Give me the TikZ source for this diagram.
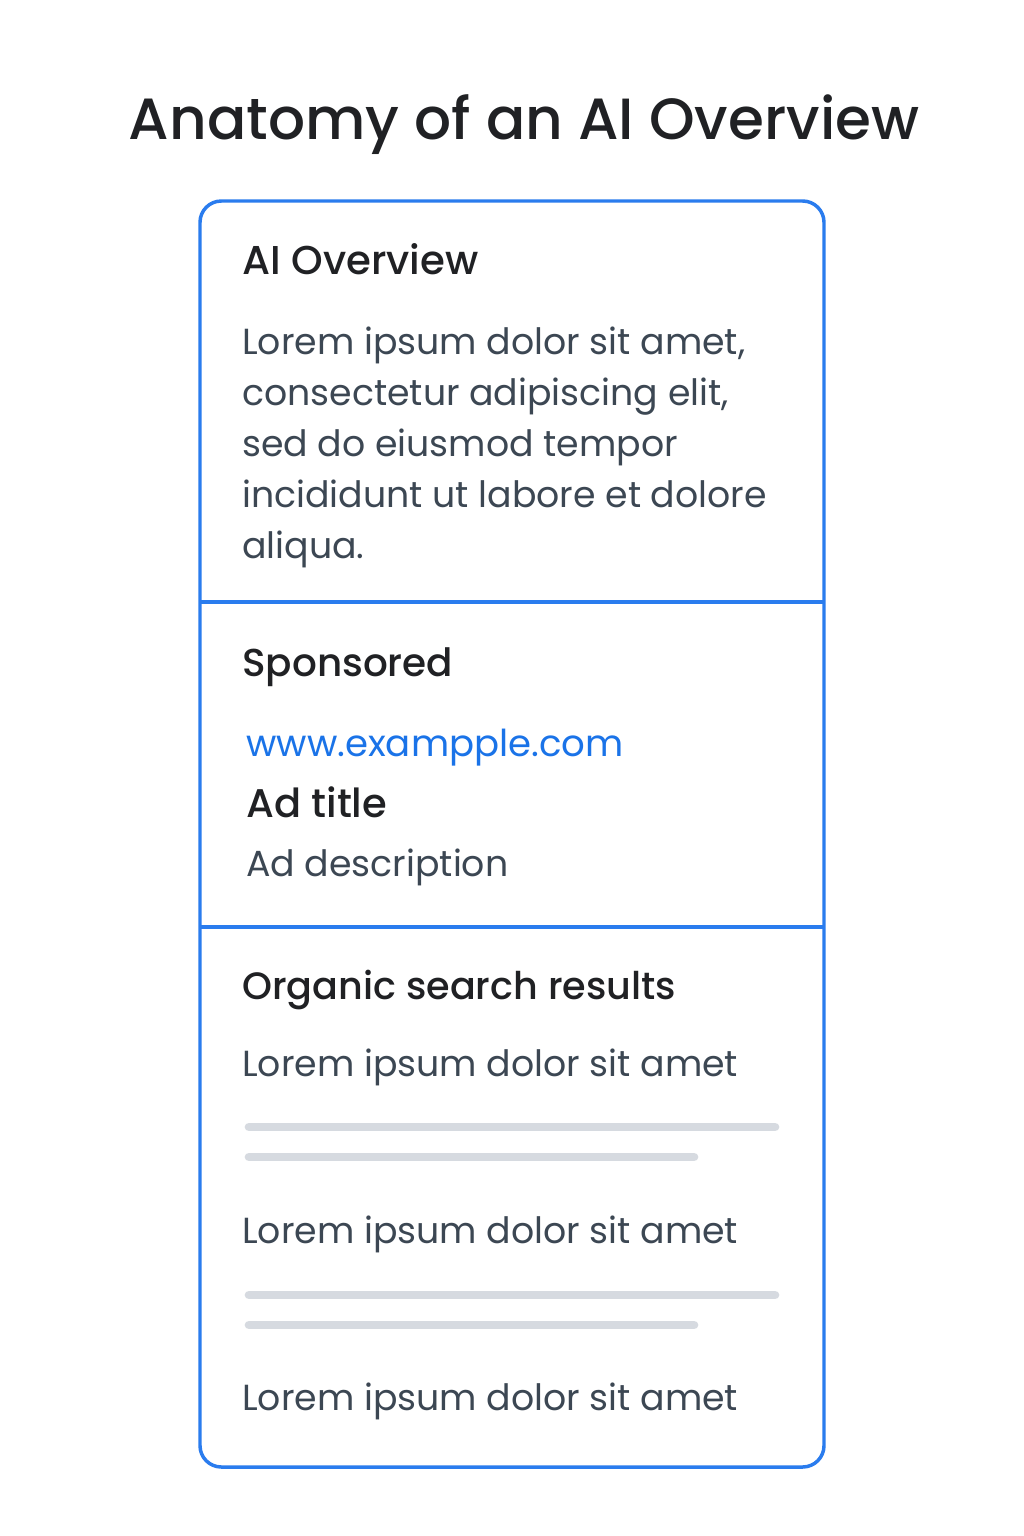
\documentclass[tikz,border=0pt]{standalone}
\usepackage{fontspec}
\setmainfont{Poppins}
\newfontfamily\medfont{Poppins Medium}
\definecolor{cardblue}{HTML}{2A7CEE}
\definecolor{darktxt}{HTML}{202124}
\definecolor{graytxt}{HTML}{3C4753}
\definecolor{linkblue}{HTML}{1A73E8}
\definecolor{barfill}{HTML}{D6DAE0}
\tikzset{
  pagetitle/.style={anchor=base, inner sep=0pt, text=darktxt, font=\medfont\fontsize{43.6}{52}\selectfont},
  sechead/.style={anchor=base west, inner sep=0pt, text=darktxt, font=\medfont\fontsize{28.6}{34}\selectfont},
  bodytxt/.style={anchor=base west, inner sep=0pt, text=graytxt, font=\fontsize{27.2}{34}\selectfont},
  linktxt/.style={anchor=base west, inner sep=0pt, text=linkblue, font=\fontsize{27.8}{34}\selectfont},
  adtitle/.style={anchor=base west, inner sep=0pt, text=darktxt, font=\medfont\fontsize{30}{36}\selectfont},
  cardframe/.style={draw=cardblue, line width=2.6pt, rounded corners=16pt},
  divider/.style={draw=cardblue, line width=2.3pt},
  placebar/.style={draw=barfill, line width=6.5pt, line cap=round},
}
\begin{document}
\begin{tikzpicture}[x=0.75pt,y=-0.75pt]
\useasboundingbox[fill=white] (0,0) rectangle (1024,1536);
\node[pagetitle] (title) at (524,139) {Anatomy of an AI Overview};
\draw[cardframe] (200,201) rectangle (824,1467);
\coordinate (d1l) at (200,602); \coordinate (d1r) at (824,602);
\coordinate (d2l) at (200,927); \coordinate (d2r) at (824,927);
\draw[divider] (d1l) -- (d1r);
\draw[divider] (d2l) -- (d2r);
% section 1
\node[sechead, font=\medfont\fontsize{30.2}{36}\selectfont] (aiov) at (242,274) {AI Overview};
\node[bodytxt] (l1) at (242,354) {Lorem ipsum dolor sit amet,};
\node[bodytxt] (l2) at (242,405) {consectetur adipiscing elit,};
\node[bodytxt] (l3) at (242,456) {sed do eiusmod tempor};
\node[bodytxt] (l4) at (242,507) {incididunt ut labore et dolore};
\node[bodytxt] (l5) at (242,558) {aliqua.};
% section 2
\node[sechead, font=\medfont\fontsize{29.2}{35}\selectfont] (spons) at (242,676) {Sponsored};
\node[linktxt] (url) at (246,756) {www.exampple.com};
\node[adtitle] (adt) at (246,817) {Ad title};
\node[bodytxt] (addesc) at (246,876) {Ad description};
% section 3
\node[sechead] (org) at (242,999) {Organic search results};
\node[bodytxt] (r1) at (242,1076) {Lorem ipsum dolor sit amet};
\coordinate (b1a) at (249,1127); \coordinate (b1b) at (775,1127);
\coordinate (b2a) at (249,1157); \coordinate (b2b) at (694,1157);
\draw[placebar] (b1a) -- (b1b);
\draw[placebar] (b2a) -- (b2b);
\node[bodytxt] (r2) at (242,1243) {Lorem ipsum dolor sit amet};
\coordinate (b3a) at (249,1295); \coordinate (b3b) at (775,1295);
\coordinate (b4a) at (249,1325); \coordinate (b4b) at (694,1325);
\draw[placebar] (b3a) -- (b3b);
\draw[placebar] (b4a) -- (b4b);
\node[bodytxt] (r3) at (242,1410) {Lorem ipsum dolor sit amet};
\end{tikzpicture}
\end{document}
